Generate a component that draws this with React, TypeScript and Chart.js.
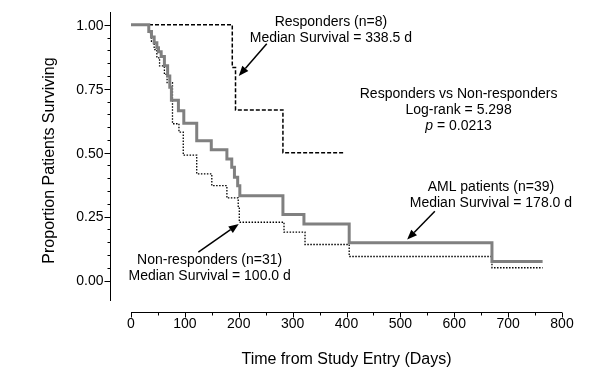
import React, { useEffect, useRef } from "react";
import { Chart, registerables } from "chart.js";

Chart.register(...registerables);

// ---- Data ----
const amlDays = [0, 33, 38, 43, 48, 51, 56, 62, 68, 72, 75, 88, 98, 122, 149, 178, 187, 192, 198, 202, 282, 321, 405, 670, 764];
const amlSurv = [1, 0.974, 0.952, 0.93, 0.91, 0.895, 0.876, 0.84, 0.8, 0.756, 0.705, 0.664, 0.615, 0.547, 0.511, 0.475, 0.443, 0.404, 0.371, 0.332, 0.258, 0.221, 0.148, 0.074, 0.074];

const nonRespDays = [0, 33, 38, 43, 48, 53, 62, 67, 77, 89, 97, 122, 150, 178, 199, 201, 284, 323, 405, 670, 764];
const nonRespSurv = [1, 0.968, 0.935, 0.903, 0.871, 0.839, 0.806, 0.774, 0.613, 0.58, 0.49, 0.417, 0.371, 0.323, 0.29, 0.228, 0.189, 0.141, 0.094, 0.05, 0.05];

const respDays = [0, 188, 194, 282, 395];
const respSurv = [1, 0.833, 0.667, 0.5, 0.5];

const xTickValues = [0, 100, 200, 300, 400, 500, 600, 700, 800];
const xTickLabels = ["0", "100", "200", "300", "400", "500", "600", "700", "800"];
const yTickValues = [0, 0.25, 0.5, 0.75, 1];
const yTickLabels = ["0.00", "0.25", "0.50", "0.75", "1.00"];

const xTitle = "Time from Study Entry (Days)";
const yTitle = "Proportion Patients Surviving";

const noteBlocks = [
  { lines: ["Responders (n=8)", "Median Survival = 338.5 d"], x: 371, y: 1.009 },
  { lines: ["Responders vs Non-responders", "Log-rank = 5.298", "p = 0.0213"], x: 608, y: 0.727 },
  { lines: ["AML patients (n=39)", "Median Survival = 178.0 d"], x: 668, y: 0.364 },
  { lines: ["Non-responders (n=31)", "Median Survival = 100.0 d"], x: 146, y: 0.078 },
];

const arrows = [
  { from: [252, 0.926], to: [200, 0.8] },
  { from: [564, 0.271], to: [512.6, 0.16] },
  { from: [125, 0.111], to: [200, 0.221] },
];

const FONT = '"Liberation Sans", Arial, Helvetica, sans-serif';

function toPoints(xs: number[], ys: number[]) {
  return xs.map((x, i) => ({ x, y: ys[i] }));
}

const prismAxes = {
  id: "prismAxes",
  afterDraw(chart: any) {
    const { ctx, chartArea, scales } = chart;
    const xs = scales.x;
    const ys = scales.y;
    ctx.save();
    ctx.strokeStyle = "#000";
    ctx.fillStyle = "#000";
    ctx.lineWidth = 1;

    // Y axis (detached to the left)
    const yAxisX = Math.round(chartArea.left - 21) + 0.5;
    ctx.beginPath();
    ctx.moveTo(yAxisX, chartArea.top);
    ctx.lineTo(yAxisX, chartArea.bottom);
    ctx.stroke();
    for (let i = 0; i <= 20; i++) {
      const v = i * 0.05;
      const py = Math.round(ys.getPixelForValue(v)) + 0.5;
      const len = i % 5 === 0 ? 6 : 3;
      ctx.beginPath();
      ctx.moveTo(yAxisX, py);
      ctx.lineTo(yAxisX - len, py);
      ctx.stroke();
    }
    ctx.font = `14px ${FONT}`;
    ctx.textAlign = "right";
    ctx.textBaseline = "middle";
    yTickValues.forEach((v, i) => {
      ctx.fillText(yTickLabels[i], yAxisX - 7, ys.getPixelForValue(v) + 1);
    });

    // X axis (detached below)
    const xAxisY = Math.round(chartArea.bottom + 11) + 0.5;
    const x0 = xs.getPixelForValue(xTickValues[0]);
    const x1 = xs.getPixelForValue(xTickValues[xTickValues.length - 1]);
    ctx.beginPath();
    ctx.moveTo(x0, xAxisY);
    ctx.lineTo(x1, xAxisY);
    ctx.stroke();
    for (let v = 0; v <= 800; v += 50) {
      const px = Math.round(xs.getPixelForValue(v)) + 0.5;
      const len = v % 100 === 0 ? 5 : 3;
      ctx.beginPath();
      ctx.moveTo(px, xAxisY);
      ctx.lineTo(px, xAxisY + len);
      ctx.stroke();
    }
    ctx.textAlign = "center";
    ctx.textBaseline = "middle";
    xTickValues.forEach((v, i) => {
      ctx.fillText(xTickLabels[i], xs.getPixelForValue(v), xAxisY + 12);
    });

    // Axis titles
    ctx.font = `16px ${FONT}`;
    ctx.fillText(xTitle, (x0 + x1) / 2, chartArea.bottom + 59);
    ctx.save();
    ctx.translate(50, (chartArea.top + chartArea.bottom) / 2 + 4);
    ctx.rotate(-Math.PI / 2);
    ctx.fillText(yTitle, 0, 0);
    ctx.restore();

    // Annotation text
    const lh = 15.8;
    noteBlocks.forEach((b) => {
      const cx = xs.getPixelForValue(b.x);
      const cy = ys.getPixelForValue(b.y);
      b.lines.forEach((line, i) => {
        const ly = cy + i * lh;
        if (line.startsWith("p = ")) {
          const rest = line.slice(1);
          ctx.font = `italic 14px ${FONT}`;
          const wp = ctx.measureText("p").width;
          ctx.font = `14px ${FONT}`;
          const wr = ctx.measureText(rest).width;
          const start = cx - (wp + wr) / 2;
          ctx.textAlign = "left";
          ctx.font = `italic 14px ${FONT}`;
          ctx.fillText("p", start, ly);
          ctx.font = `14px ${FONT}`;
          ctx.fillText(rest, start + wp, ly);
          ctx.textAlign = "center";
        } else {
          ctx.font = `14px ${FONT}`;
          ctx.textAlign = "center";
          ctx.fillText(line, cx, ly);
        }
      });
    });

    // Arrows
    arrows.forEach((a) => {
      const fx = xs.getPixelForValue(a.from[0]);
      const fy = ys.getPixelForValue(a.from[1]);
      const tx = xs.getPixelForValue(a.to[0]);
      const ty = ys.getPixelForValue(a.to[1]);
      const ang = Math.atan2(ty - fy, tx - fx);
      const headLen = 10;
      const headW = 4;
      const bx = tx - headLen * Math.cos(ang);
      const by = ty - headLen * Math.sin(ang);
      ctx.lineWidth = 1.5;
      ctx.beginPath();
      ctx.moveTo(fx, fy);
      ctx.lineTo(bx, by);
      ctx.stroke();
      ctx.beginPath();
      ctx.moveTo(tx, ty);
      ctx.lineTo(bx + headW * Math.sin(ang), by - headW * Math.cos(ang));
      ctx.lineTo(bx - headW * Math.sin(ang), by + headW * Math.cos(ang));
      ctx.closePath();
      ctx.fill();
    });

    ctx.restore();
  },
};

export default function App() {
  const canvasRef = useRef<HTMLCanvasElement | null>(null);

  useEffect(() => {
    if (!canvasRef.current) return;
    const chart = new Chart(canvasRef.current, {
      type: "line",
      data: {
        datasets: [
          {
            label: "AML patients (n=39)",
            data: toPoints(amlDays, amlSurv),
            stepped: "before",
            borderColor: "#808080",
            borderWidth: 3,
            pointRadius: 0,
            fill: false,
            order: 0,
          },
          {
            label: "Non-responders (n=31)",
            data: toPoints(nonRespDays, nonRespSurv),
            stepped: "before",
            borderColor: "#000",
            borderWidth: 1.3,
            borderDash: [1.5, 1.5],
            pointRadius: 0,
            fill: false,
            order: 1,
          },
          {
            label: "Responders (n=8)",
            data: toPoints(respDays, respSurv),
            stepped: "before",
            borderColor: "#000",
            borderWidth: 1.5,
            borderDash: [4, 2],
            pointRadius: 0,
            fill: false,
            order: 2,
          },
        ],
      },
      options: {
        animation: false,
        responsive: false,
        maintainAspectRatio: false,
        devicePixelRatio: 1,
        layout: { padding: { left: 131, right: 38, top: 12, bottom: 68 } },
        scales: {
          x: { type: "linear", min: 0, max: 800, display: false },
          y: { type: "linear", min: -0.08, max: 1.05, display: false },
        },
        plugins: {
          legend: { display: false },
          tooltip: { enabled: false },
        },
      },
      plugins: [prismAxes],
    } as any);
    return () => chart.destroy();
  }, []);

  return (
    <div style={{ position: "fixed", left: 0, top: 0, width: 600, height: 369, background: "#fff" }}>
      <canvas ref={canvasRef} width={600} height={369} style={{ display: "block" }} />
    </div>
  );
}
